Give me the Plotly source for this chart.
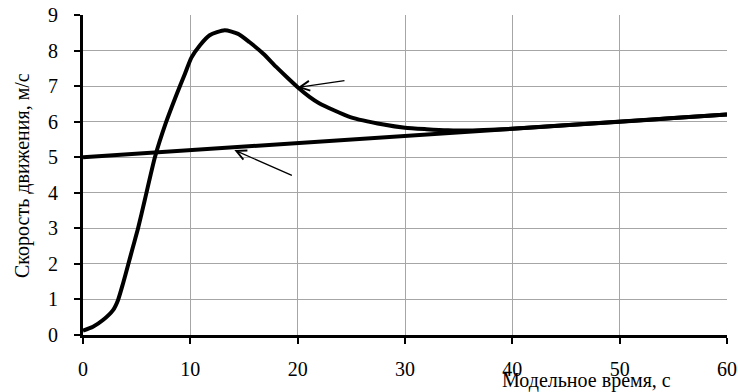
import plotly.graph_objects as go

# Model time, s
line_t = [0, 60]
line_v = [5.0, 6.2]

curve_t = [0, 0.93, 1.86, 2.8, 3.26, 3.73, 4.2, 4.66, 5.13, 5.75, 6.7, 7.7, 8.7, 9.5, 10.1, 10.9,
           11.8, 13.2, 14.45, 15.5, 16.8, 18.0, 19.0, 20.0, 21.1, 22.0, 24.9, 28, 30, 32, 34, 36,
           38, 40, 45, 50, 55, 60]
curve_v = [0.12, 0.23, 0.42, 0.7, 0.98, 1.45, 1.97, 2.48, 3.0, 3.79, 5.0, 5.95, 6.75, 7.35, 7.8,
           8.15, 8.43, 8.57, 8.47, 8.24, 7.91, 7.54, 7.25, 6.97, 6.7, 6.52, 6.13, 5.92, 5.83, 5.79,
           5.76, 5.75, 5.77, 5.8, 5.9, 6.0, 6.1, 6.2]

x_ticks = [0, 10, 20, 30, 40, 50, 60]
y_ticks = [0, 1, 2, 3, 4, 5, 6, 7, 8, 9]

# arrows: head and tail in data units
arrow_heads_x = [20.0, 14.1]
arrow_heads_y = [6.96, 5.2]
arrow_tails_x = [24.5, 19.6]
arrow_tails_y = [7.16, 4.47]

x_title = "Модельное время, с"
y_title = "Скорость движения, м/с"

FONT = "'Times New Roman', 'Liberation Serif', Tinos, 'DejaVu Serif', serif"

fig = go.Figure()
fig.add_trace(go.Scatter(x=line_t, y=line_v, mode="lines",
                         line=dict(color="black", width=4), showlegend=False))
fig.add_trace(go.Scatter(x=curve_t, y=curve_v, mode="lines",
                         line=dict(color="black", width=4, shape="spline", smoothing=0.6),
                         showlegend=False))

for hx, hy, tx, ty in zip(arrow_heads_x, arrow_heads_y, arrow_tails_x, arrow_tails_y):
    fig.add_annotation(x=hx, y=hy, ax=tx, ay=ty, xref="x", yref="y", axref="x", ayref="y",
                       text="", showarrow=True, arrowhead=5, arrowsize=1.5,
                       arrowwidth=1.3, arrowcolor="black")

axis_common = dict(showgrid=True, gridcolor="#a6a6a6", gridwidth=1,
                   showline=True, linecolor="black", linewidth=3, ticks="outside", ticklen=6,
                   tickwidth=2, tickcolor="black", zeroline=False, automargin=False,
                   tickfont=dict(family=FONT, size=20, color="black"))

fig.update_layout(
    width=738, height=392,
    margin=dict(l=83, r=11, t=15, b=57, autoexpand=False),
    paper_bgcolor="white", plot_bgcolor="white",
    font=dict(family=FONT, size=20, color="black"),
    xaxis=dict(range=[0, 60], tickvals=x_ticks, ticklabelstandoff=8, **axis_common),
    yaxis=dict(range=[0, 9], tickvals=y_ticks, ticklabelstandoff=12, **axis_common),
)

fig.add_annotation(xref="paper", yref="paper", x=(22 - 83) / 644, y=(335 - 176) / 320,
                   xanchor="center", yanchor="middle",
                   text=y_title, showarrow=False, textangle=-90,
                   font=dict(family=FONT, size=20, color="black"))
fig.add_annotation(xref="paper", yref="paper", x=(586 - 83) / 644, y=-(380 - 335) / 320,
                   xanchor="center", yanchor="middle",
                   text=x_title, showarrow=False,
                   font=dict(family=FONT, size=20, color="black"))

fig.write_html("out.html", config={"displayModeBar": False},
               post_script="document.body.style.margin='0px';")
